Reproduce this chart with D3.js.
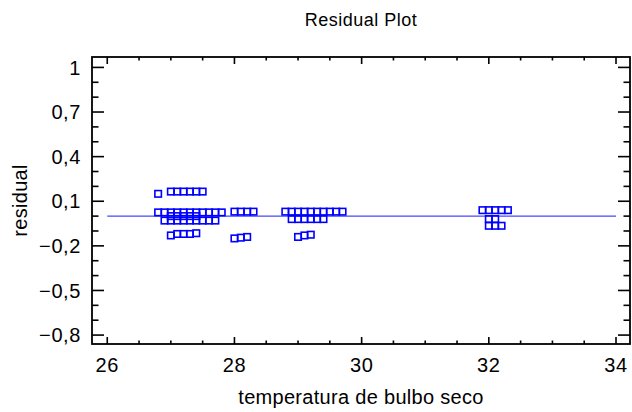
<!DOCTYPE html>
<html lang="en">
<head>
<meta charset="UTF-8">
<title>Residual Plot</title>
<script src="https://d3js.org/d3.v7.min.js"></script>
<style>
  body { margin: 0; background: #fff; font-family: Arial, "Liberation Sans", sans-serif; }
  svg text { fill: #000; }
</style>
</head>
<body>
<div id="chart"></div>
<script>
// temperatura de bulbo seco (x) and residual (y)
const temperatura = [
  26.8, 27.0, 27.1, 27.2, 27.3, 27.4, 27.5,
  26.8, 26.9, 27.0, 27.1, 27.2, 27.3, 27.4, 27.5, 27.6, 27.7, 27.8,
  27.0, 27.1, 27.2, 27.3, 27.4,
  26.9, 27.0, 27.1, 27.2, 27.3, 27.4, 27.5, 27.6, 27.7,
  27.0, 27.1, 27.2, 27.3, 27.4,
  28.0, 28.1, 28.2, 28.3,
  28.0, 28.1, 28.2,
  28.8, 28.9, 29.0, 29.1, 29.2, 29.3, 29.4, 29.5, 29.6, 29.7,
  28.9, 29.0, 29.1, 29.2, 29.3, 29.4,
  29.0, 29.1, 29.2,
  31.9, 32.0, 32.1, 32.2, 32.3,
  32.0, 32.1,
  32.0, 32.1, 32.2
];
const residual = [
  0.15, 0.165, 0.165, 0.165, 0.165, 0.165, 0.165,
  0.025, 0.025, 0.025, 0.025, 0.025, 0.025, 0.025, 0.025, 0.025, 0.025, 0.025,
  0.0, 0.0, 0.0, 0.0, 0.0,
  -0.03, -0.03, -0.03, -0.03, -0.03, -0.03, -0.03, -0.03, -0.03,
  -0.13, -0.12, -0.12, -0.12, -0.115,
  0.03, 0.03, 0.03, 0.03,
  -0.15, -0.145, -0.14,
  0.03, 0.03, 0.03, 0.03, 0.03, 0.03, 0.03, 0.03, 0.03, 0.03,
  -0.02, -0.02, -0.02, -0.02, -0.02, -0.02,
  -0.14, -0.13, -0.125,
  0.04, 0.04, 0.04, 0.04, 0.04,
  -0.02, -0.02,
  -0.065, -0.065, -0.065
];
const xTicks = [26, 28, 30, 32, 34];
const yTicks = [1, 0.7, 0.4, 0.1, -0.2, -0.5, -0.8];
const fitLine = [26, 34];

const width = 632, height = 412;
const margin = { top: 57, right: 2, bottom: 68, left: 92 };

const svg = d3.select("#chart").append("svg")
    .attr("width", width)
    .attr("height", height);

const x = d3.scaleLinear().domain([25.76, 34.22]).range([margin.left, width - margin.right]);
const y = d3.scaleLinear().domain([-0.86, 1.07]).range([height - margin.bottom, margin.top]);

const fmt = d => d3.format(".1~f")(d).replace(".", ",");

// minor ticks every 0.5 on x and 0.1 on y
const xMinor = d3.range(26, 34.01, 0.5);
const yMinor = d3.range(-0.8, 1.001, 0.1).map(v => Math.round(v * 10) / 10);

const g = svg.append("g");
const x0 = x.range()[0], x1 = x.range()[1], y0 = y.range()[0], y1 = y.range()[1];

// ticks on all four sides, pointing in
xMinor.forEach(v => {
  const major = xTicks.includes(v);
  const len = major ? 7 : 3.5;
  g.append("line").attr("x1", x(v)).attr("x2", x(v)).attr("y1", y0).attr("y2", y0 - len)
    .attr("stroke", "#000").attr("stroke-width", 1.6);
  g.append("line").attr("x1", x(v)).attr("x2", x(v)).attr("y1", y1).attr("y2", y1 + len)
    .attr("stroke", "#000").attr("stroke-width", 1.6);
});
yMinor.forEach(v => {
  const major = yTicks.includes(v);
  const len = major ? 12 : 6.5;
  g.append("line").attr("y1", y(v)).attr("y2", y(v)).attr("x1", x0).attr("x2", x0 + len)
    .attr("stroke", "#000").attr("stroke-width", 1.6);
  g.append("line").attr("y1", y(v)).attr("y2", y(v)).attr("x1", x1).attr("x2", x1 - len)
    .attr("stroke", "#000").attr("stroke-width", 1.6);
});

g.append("rect")
    .attr("x", x0).attr("y", y1)
    .attr("width", x1 - x0).attr("height", y0 - y1)
    .attr("fill", "none").attr("stroke", "#000").attr("stroke-width", 1.8);

// tick labels
svg.append("g").selectAll("text").data(xTicks).join("text")
    .attr("x", d => x(d)).attr("y", y0 + 28)
    .attr("text-anchor", "middle")
    .style("font-size", "20px")
    .style("letter-spacing", "0.6px")
    .text(d => d);
svg.append("g").selectAll("text").data(yTicks).join("text")
    .attr("x", x0 - 11).attr("y", d => y(d))
    .attr("dy", "0.36em")
    .attr("text-anchor", "end")
    .style("font-size", "20px")
    .style("letter-spacing", "0.6px")
    .text(fmt);

// zero line
svg.append("line")
    .attr("x1", x(fitLine[0])).attr("x2", x(fitLine[1]))
    .attr("y1", y(0)).attr("y2", y(0))
    .attr("stroke", "#4646ff").attr("stroke-width", 1.4);

// points
const s = 6.5;
svg.append("g").selectAll("rect").data(temperatura).join("rect")
    .attr("x", (d, i) => x(d) - s / 2)
    .attr("y", (d, i) => y(residual[i]) - s / 2)
    .attr("width", s).attr("height", s)
    .attr("fill", "none")
    .attr("stroke", "#0000ff")
    .attr("stroke-width", 1.6);

// titles
svg.append("text")
    .attr("x", (x0 + x1) / 2).attr("y", 26)
    .attr("text-anchor", "middle")
    .style("font-size", "18px")
    .style("letter-spacing", "0.5px")
    .text("Residual Plot");
svg.append("text")
    .attr("x", (x0 + x1) / 2).attr("y", 404)
    .attr("text-anchor", "middle")
    .style("font-size", "20px")
    .style("letter-spacing", "0.3px")
    .text("temperatura de bulbo seco");
svg.append("text")
    .attr("transform", `translate(27,${(y0 + y1) / 2}) rotate(-90)`)
    .attr("text-anchor", "middle")
    .style("font-size", "20px")
    .style("letter-spacing", "0.3px")
    .text("residual");
</script>
</body>
</html>
